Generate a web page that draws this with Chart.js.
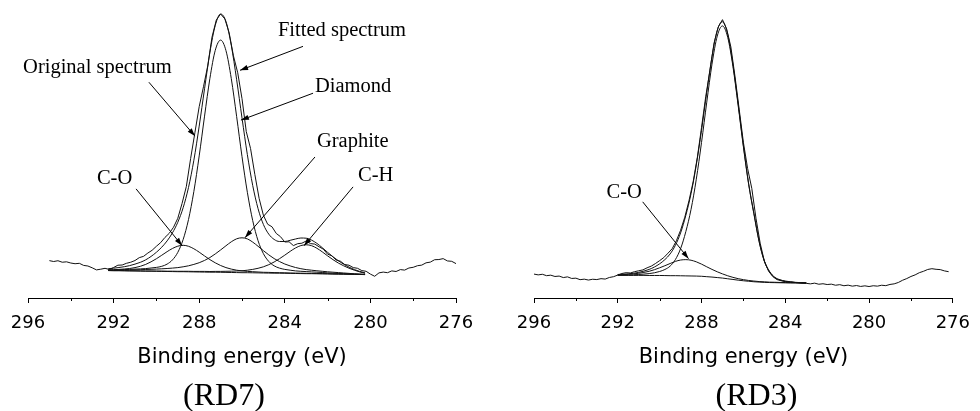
<!DOCTYPE html>
<html>
<head>
<meta charset="utf-8">
<script src="https://cdn.jsdelivr.net/npm/chart.js@4.4.1/dist/chart.umd.min.js"></script>
<style>
  html, body { margin: 0; padding: 0; background: #fff; }
  #wrap { display: flex; width: 980px; height: 411px; }
  .panel { width: 490px; height: 411px; }
</style>
</head>
<body>
<div id="wrap">
  <div class="panel"><canvas id="rd7" width="490" height="411"></canvas></div>
  <div class="panel"><canvas id="rd3" width="490" height="411"></canvas></div>
</div>
<script>
// tick labels on the binding energy axis (major), and unlabelled minor ticks
const tickLabels = [296, 292, 288, 284, 280, 276];
const minorTicks = [294, 290, 286, 282, 278];

// ---- RD7 : fitted region (eV) and fit curves (a.u.) ----
const energyFitRD7 = [292.25, 292.0, 291.75, 291.5, 291.25, 291.0, 290.75, 290.5, 290.25, 290.0,
  289.75, 289.5, 289.25, 289.0, 288.75, 288.5, 288.25, 288.0, 287.75, 287.5,
  287.25, 287.0, 286.75, 286.5, 286.25, 286.0, 285.75, 285.5, 285.25, 285.0,
  284.75, 284.5, 284.25, 284.0, 283.75, 283.5, 283.25, 283.0, 282.75, 282.5,
  282.25, 282.0, 281.75, 281.5, 281.25, 281.0, 280.75, 280.5, 280.25];
const baseRD7 = [27.5, 27.4, 27.4, 27.3, 27.2, 27.1, 27.0, 26.9, 26.9, 26.8,
  26.7, 26.6, 26.5, 26.4, 26.4, 26.3, 26.2, 26.1, 26.0, 25.9,
  25.9, 25.8, 25.7, 25.6, 25.5, 25.4, 25.4, 25.3, 25.2, 25.1,
  25.0, 24.9, 24.9, 24.8, 24.7, 24.6, 24.5, 24.4, 24.4, 24.3,
  24.2, 24.1, 24.0, 23.9, 23.9, 23.8, 23.7, 23.6, 23.5];
const diamondRD7 = [28.0, 28.1, 28.3, 28.5, 28.7, 29.0, 29.2, 29.5, 30.1, 30.7,
  31.8, 34.0, 38.2, 45.8, 58.7, 78.7, 106.9, 142.6, 182.5, 220.4,
  248.5, 258.8, 248.3, 220.1, 182.0, 141.9, 106.1, 77.7, 57.5, 44.5,
  36.7, 32.3, 30.0, 28.7, 27.9, 27.2, 26.8, 26.5, 26.2, 25.9,
  25.6, 25.2, 24.9, 24.6, 24.4, 24.2, 24.0, 23.8, 23.6];
const coRD7 = [28.2, 28.4, 28.7, 29.1, 29.6, 30.5, 31.8, 33.7, 36.3, 39.4,
  42.9, 46.5, 49.7, 52.0, 52.9, 51.9, 49.4, 46.0, 42.2, 38.5,
  35.3, 32.6, 30.5, 29.0, 27.9, 27.2, 26.7, 26.4, 26.1, 25.8,
  25.7, 25.5, 25.4, 25.3, 25.1, 25.0, 24.9, 24.8, 24.7, 24.6,
  24.5, 24.4, 24.2, 24.1, 24.0, 23.9, 23.8, 23.7, 23.5];
const graphiteRD7 = [27.8, 27.8, 27.9, 28.0, 28.1, 28.3, 28.4, 28.6, 28.8, 29.0,
  29.3, 29.6, 30.0, 30.5, 31.3, 32.3, 33.7, 35.4, 37.7, 40.6,
  44.2, 48.2, 52.4, 56.4, 59.4, 60.4, 59.3, 56.1, 51.9, 47.5,
  43.3, 39.6, 36.6, 34.1, 32.2, 30.6, 29.4, 28.5, 27.9, 27.3,
  26.8, 26.3, 25.9, 25.5, 25.1, 24.7, 24.3, 24.0, 23.7];
const chRD7 = [27.6, 27.5, 27.5, 27.4, 27.3, 27.3, 27.2, 27.1, 27.1, 27.0,
  27.0, 26.9, 26.9, 26.8, 26.8, 26.8, 26.7, 26.7, 26.7, 26.6,
  26.7, 26.7, 26.8, 26.9, 27.1, 27.3, 27.9, 28.7, 29.8, 31.3,
  33.4, 36.1, 39.4, 43.0, 46.8, 50.2, 52.6, 53.4, 52.5, 49.9,
  46.3, 42.3, 38.5, 35.1, 32.3, 29.9, 27.9, 26.2, 24.8];
const fittedRD7 = [29.4, 29.9, 30.6, 31.4, 32.5, 34.0, 35.8, 38.3, 41.7, 45.9,
  51.0, 57.3, 65.4, 76.0, 90.6, 110.9, 138.2, 172.5, 210.0, 246.5,
  273.5, 285.0, 277.5, 253.5, 219.0, 180.7, 143.9, 113.0, 89.7, 73.8,
  64.1, 58.8, 56.7, 56.7, 57.9, 59.2, 60.2, 60.0, 58.1, 54.8,
  50.5, 45.8, 41.4, 37.4, 33.9, 31.0, 28.5, 26.7, 25.2];

// ---- RD7 : measured spectrum ----
const energyRawRD7 = [295.0, 294.8, 294.6, 294.4, 294.2, 294.0, 293.8, 293.6, 293.4, 293.2,
  293.0, 292.8, 292.6, 292.4, 292.2, 292.0, 291.8, 291.6, 291.4, 291.2,
  291.0, 290.8, 290.6, 290.4, 290.2, 290.0, 289.8, 289.6, 289.4, 289.2,
  289.0, 288.8, 288.6, 288.4, 288.2, 288.0, 287.8, 287.6, 287.4, 287.2,
  287.0, 286.8, 286.6, 286.4, 286.2, 286.0, 285.8, 285.6, 285.4, 285.2,
  285.0, 284.8, 284.6, 284.4, 284.2, 284.0, 283.8, 283.6, 283.4, 283.2,
  283.0, 282.8, 282.6, 282.4, 282.2, 282.0, 281.8, 281.6, 281.4, 281.2,
  281.0, 280.8, 280.6, 280.4, 280.2, 280.0, 279.8, 279.6, 279.4, 279.2,
  279.0, 278.8, 278.6, 278.4, 278.2, 278.0, 277.8, 277.6, 277.4, 277.2,
  277.0, 276.8, 276.6, 276.4, 276.2, 276.0];
const rawRD7 = [37.5, 36.6, 37.4, 35.9, 36.3, 35.1, 34.4, 34.8, 32.7, 32.1,
  30.3, 28.2, 28.9, 29.8, 28.6, 30.6, 32.9, 33.1, 34.8, 35.9,
  37.6, 40.5, 41.8, 45.1, 47.9, 51.9, 55.6, 60.8, 64.9, 71.0,
  80.0, 95.0, 112.0, 140.0, 166.0, 192.0, 212.0, 233.0, 262.0, 279.0,
  285.0, 280.0, 266.0, 243.0, 226.0, 200.0, 167.0, 150.0, 124.0, 100.0,
  83.0, 74.0, 71.5, 64.8, 61.5, 56.2, 56.4, 52.6, 54.5, 55.0,
  57.2, 54.6, 54.1, 51.4, 49.0, 44.0, 42.3, 38.1, 36.9, 33.6,
  32.9, 30.5, 29.8, 27.5, 26.8, 24.0, 21.8, 25.2, 26.0, 25.4,
  27.2, 26.6, 28.5, 28.0, 30.1, 30.8, 32.4, 33.0, 35.3, 36.0,
  38.4, 38.6, 39.5, 37.2, 36.8, 34.5];

// ---- RD3 : fitted region and fit curves ----
const energyFitRD3 = [292.0, 291.75, 291.5, 291.25, 291.0, 290.75, 290.5, 290.25, 290.0, 289.75,
  289.5, 289.25, 289.0, 288.75, 288.5, 288.25, 288.0, 287.75, 287.5, 287.25,
  287.0, 286.75, 286.5, 286.25, 286.0, 285.75, 285.5, 285.25, 285.0, 284.75,
  284.5, 284.25, 284.0, 283.75, 283.5, 283.25, 283.0];
const baseRD3 = [22.7, 22.7, 22.7, 22.7, 22.7, 22.7, 22.6, 22.6, 22.6, 22.5,
  22.4, 22.4, 22.3, 22.2, 22.1, 22.0, 21.8, 21.4, 21.0, 20.5,
  20.0, 19.3, 18.6, 17.9, 17.3, 16.8, 16.3, 16.0, 15.7, 15.5,
  15.4, 15.3, 15.2, 15.1, 15.1, 15.0, 15.0];
const diamondRD3 = [22.9, 23.0, 23.1, 23.3, 23.6, 24.0, 24.5, 25.3, 26.6, 28.6,
  32.0, 38.5, 49.5, 66.6, 89.0, 119.2, 156.1, 196.5, 234.7, 262.8,
  273.0, 261.6, 232.3, 193.0, 151.6, 114.0, 84.5, 56.5, 36.8, 26.2,
  20.4, 18.0, 16.7, 16.0, 15.5, 15.2, 15.0];
const coRD3 = [23.4, 23.5, 23.8, 24.2, 24.8, 25.7, 26.8, 28.4, 30.3, 32.4,
  34.6, 36.7, 38.1, 38.5, 37.9, 36.3, 34.0, 31.3, 28.7, 26.3,
  24.2, 22.3, 20.7, 19.4, 18.4, 17.6, 17.0, 16.5, 16.2, 15.9,
  15.8, 15.6, 15.5, 15.4, 15.3, 15.2, 15.2];
const fittedRD3 = [23.6, 23.8, 24.2, 24.8, 25.7, 27.0, 28.7, 31.1, 34.3, 38.5,
  44.2, 52.8, 65.3, 82.9, 104.8, 133.5, 168.3, 206.4, 242.4, 268.6,
  277.2, 264.6, 234.4, 194.5, 152.7, 114.8, 85.2, 57.0, 37.3, 26.6,
  20.8, 18.3, 17.0, 16.3, 15.7, 15.4, 15.2];

// ---- RD3 : measured spectrum ----
const energyRawRD3 = [296.0, 295.8, 295.6, 295.4, 295.2, 295.0, 294.8, 294.6, 294.4, 294.2,
  294.0, 293.8, 293.6, 293.4, 293.2, 293.0, 292.8, 292.6, 292.4, 292.2,
  292.0, 291.8, 291.6, 291.4, 291.2, 291.0, 290.8, 290.6, 290.4, 290.2,
  290.0, 289.8, 289.6, 289.4, 289.2, 289.0, 288.8, 288.6, 288.4, 288.2,
  288.0, 287.8, 287.6, 287.4, 287.2, 287.0, 286.8, 286.6, 286.4, 286.2,
  286.0, 285.8, 285.6, 285.4, 285.2, 285.0, 284.8, 284.6, 284.4, 284.2,
  284.0, 283.8, 283.6, 283.4, 283.2, 283.0, 282.8, 282.6, 282.4, 282.2,
  282.0, 281.8, 281.6, 281.4, 281.2, 281.0, 280.8, 280.6, 280.4, 280.2,
  280.0, 279.8, 279.6, 279.4, 279.2, 279.0, 278.8, 278.6, 278.4, 278.2,
  278.0, 277.8, 277.6, 277.4, 277.2, 277.0, 276.8, 276.6, 276.4, 276.2];
const rawRD3 = [24.0, 23.2, 23.8, 22.4, 22.9, 21.6, 22.0, 20.5, 21.2, 19.6,
  19.9, 18.4, 18.9, 18.0, 18.8, 18.5, 19.4, 19.0, 20.6, 21.4,
  23.0, 24.6, 25.4, 25.1, 26.4, 27.3, 28.2, 30.3, 32.0, 34.6,
  37.5, 40.6, 45.0, 49.5, 57.5, 68.0, 81.0, 97.5, 116.5, 141.0,
  171.0, 202.0, 228.0, 256.0, 272.0, 279.3, 270.0, 252.0, 222.0, 189.0,
  156.0, 130.0, 110.0, 80.0, 55.0, 37.0, 27.0, 21.5, 18.5, 17.3,
  16.4, 16.0, 15.6, 15.4, 15.0, 14.7, 14.2, 14.9, 13.8, 14.3,
  13.5, 13.9, 12.8, 13.4, 12.3, 12.9, 11.9, 12.5, 11.6, 12.2,
  11.5, 12.3, 11.9, 12.8, 12.4, 13.6, 14.2, 15.6, 17.8, 19.5,
  21.6, 23.2, 25.4, 26.8, 28.6, 29.4, 28.8, 28.5, 27.2, 26.4];

// labels with arrows, given as [energy, intensity]
const notesRD7 = [
  { text: 'Fitted spectrum', at: [284.32, 268.5], from: [283.15, 252.5], tip: [286.09, 228.5] },
  { text: 'Original spectrum', at: [296.23, 231.5], from: [290.35, 216.5], tip: [288.20, 162.5] },
  { text: 'Diamond', at: [282.59, 212.5], from: [282.68, 205.5], tip: [286.05, 178.5] },
  { text: 'Graphite', at: [282.50, 156.5], from: [282.59, 141.5], tip: [285.86, 60.5] },
  { text: 'C-H', at: [280.58, 122.5], from: [280.81, 111.5], tip: [283.10, 52.5] },
  { text: 'C-O', at: [292.78, 119.5], from: [290.95, 109.5], tip: [288.80, 52.5] }
];
const notesRD3 = [
  { text: 'C-O', at: [292.54, 105.5], from: [290.81, 96.5], tip: [288.62, 39.5] }
];

function pts(xs, ys) {
  return xs.map((x, i) => ({ x: x, y: ys[i] }));
}

function curve(label, xs, ys, smooth) {
  return {
    label: label,
    data: pts(xs, ys),
    borderColor: '#111',
    borderWidth: 1,
    pointRadius: 0,
    fill: false,
    tension: 0,
    cubicInterpolationMode: smooth ? 'monotone' : 'default'
  };
}

const notesPlugin = {
  id: 'notes',
  afterDatasetsDraw(chart, args, opts) {
    const ctx = chart.ctx;
    const x = chart.scales.x;
    const y = chart.scales.y;
    ctx.save();
    ctx.fillStyle = '#000';
    ctx.strokeStyle = '#000';
    ctx.lineWidth = 1;
    // short minor ticks under the axis line
    const axisY = chart.chartArea.bottom;
    minorTicks.forEach(function(v) {
      const px = Math.round(x.getPixelForValue(v)) + 0.5;
      ctx.beginPath();
      ctx.moveTo(px, axisY);
      ctx.lineTo(px, axisY + 3);
      ctx.stroke();
    });
    ctx.font = '20.5px "Liberation Serif"';
    ctx.textAlign = 'left';
    ctx.textBaseline = 'middle';
    opts.notes.forEach(function(n) {
      ctx.fillText(n.text, x.getPixelForValue(n.at[0]), y.getPixelForValue(n.at[1]));
      const x0 = x.getPixelForValue(n.from[0]);
      const y0 = y.getPixelForValue(n.from[1]);
      const x1 = x.getPixelForValue(n.tip[0]);
      const y1 = y.getPixelForValue(n.tip[1]);
      ctx.beginPath();
      ctx.moveTo(x0, y0);
      ctx.lineTo(x1, y1);
      ctx.stroke();
      // arrow head
      const a = Math.atan2(y1 - y0, x1 - x0);
      const len = 8, half = 2.6;
      const bx = x1 - len * Math.cos(a), by = y1 - len * Math.sin(a);
      ctx.beginPath();
      ctx.moveTo(x1, y1);
      ctx.lineTo(bx + half * Math.sin(a), by - half * Math.cos(a));
      ctx.lineTo(bx - half * Math.sin(a), by + half * Math.cos(a));
      ctx.closePath();
      ctx.fill();
    });
    ctx.font = '32px "Liberation Serif"';
    ctx.textAlign = 'center';
    ctx.textBaseline = 'alphabetic';
    ctx.fillText(opts.label, opts.labelX, opts.labelY);
    ctx.restore();
  }
};

function makePanel(id, datasets, notes, label, labelX, padLeft, padRight) {
  return new Chart(document.getElementById(id), {
    type: 'line',
    data: { datasets: datasets },
    options: {
      responsive: false,
      animation: false,
      devicePixelRatio: 1,
      events: [],
      layout: { padding: { left: padLeft, right: padRight, top: 10, bottom: 40.2 } },
      scales: {
        x: {
          type: 'linear',
          reverse: true,
          min: 276,
          max: 296,
          grid: {
            drawOnChartArea: false,
            drawTicks: true,
            tickLength: 5,
            color: function(c) { return (c.tick && tickLabels.includes(c.tick.value)) ? '#000' : 'rgba(0,0,0,0)'; }
          },
          border: { display: true, color: '#000', width: 1 },
          ticks: {
            stepSize: 2,
            autoSkip: false,
            maxRotation: 0,
            padding: 10,
            color: '#000',
            font: { family: 'DejaVu Sans', size: 18 },
            callback: function(v) { return tickLabels.includes(v) ? String(v) : ''; }
          },
          title: {
            display: true,
            text: 'Binding energy (eV)',
            color: '#000',
            font: { family: 'DejaVu Sans', size: 21 },
            padding: { top: 0, bottom: 1 }
          }
        },
        y: { display: false, min: 0, max: 289 }
      },
      plugins: {
        legend: { display: false },
        tooltip: { enabled: false },
        notes: { notes: notes, label: label, labelX: labelX, labelY: 405 }
      }
    },
    plugins: [notesPlugin]
  });
}

makePanel('rd7', [
  curve('Original spectrum', energyRawRD7, rawRD7, false),
  curve('Fitted spectrum', energyFitRD7, fittedRD7, true),
  curve('Diamond', energyFitRD7, diamondRD7, true),
  curve('C-O', energyFitRD7, coRD7, true),
  curve('Graphite', energyFitRD7, graphiteRD7, true),
  curve('C-H', energyFitRD7, chRD7, true),
  curve('Background', energyFitRD7, baseRD7, true)
], notesRD7, '(RD7)', 224, 28, 34);

makePanel('rd3', [
  curve('Original spectrum', energyRawRD3, rawRD3, false),
  curve('Fitted spectrum', energyFitRD3, fittedRD3, true),
  curve('Diamond', energyFitRD3, diamondRD3, true),
  curve('C-O', energyFitRD3, coRD3, true),
  curve('Background', energyFitRD3, baseRD3, true)
], notesRD3, '(RD3)', 266.5, 44, 18);
</script>
</body>
</html>
